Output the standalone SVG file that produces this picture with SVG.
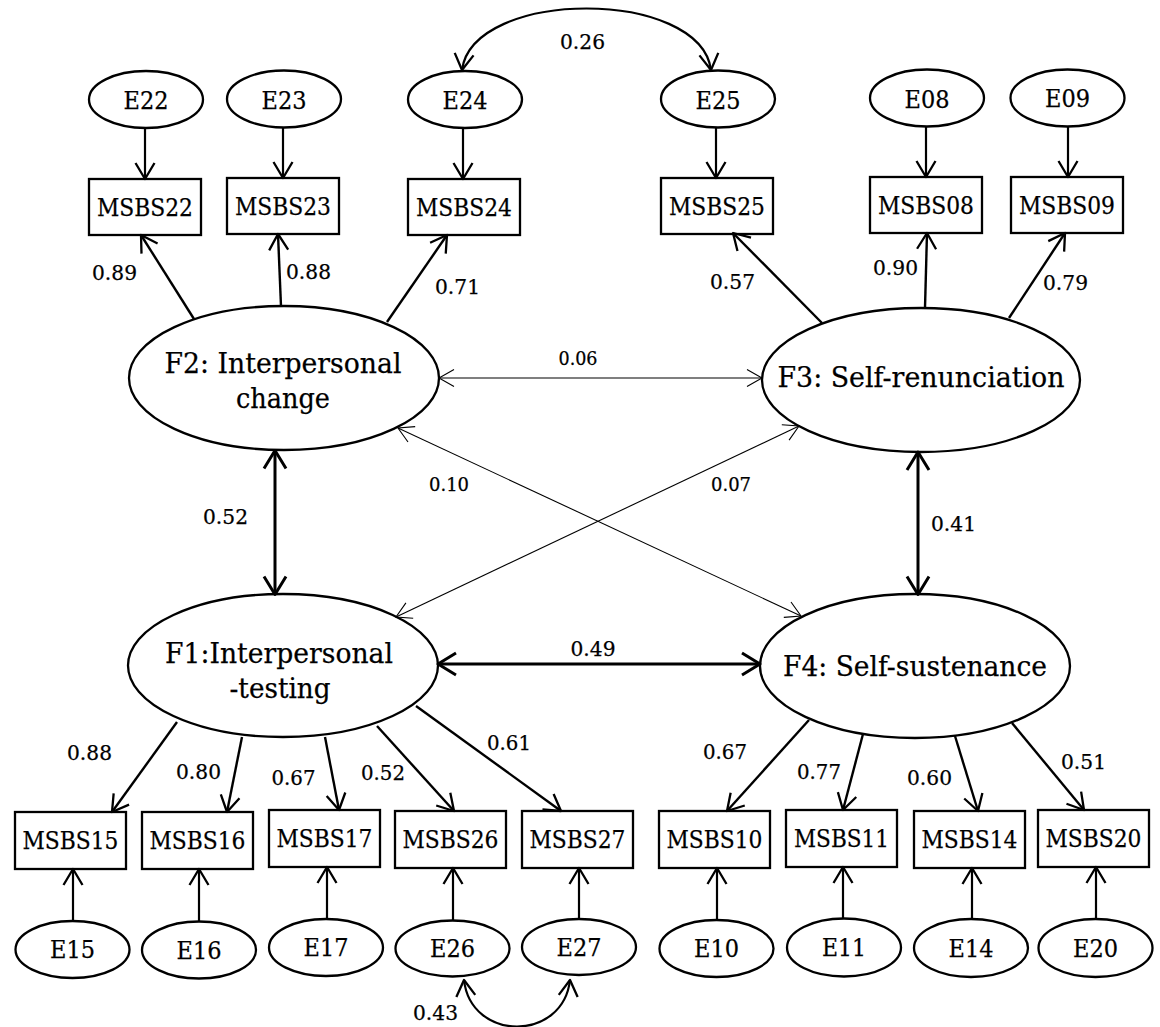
<svg xmlns="http://www.w3.org/2000/svg" width="1160" height="1027" viewBox="0 0 1160 1027">
<style>
.n ellipse, .n rect { fill: #fff; stroke: #000; stroke-width: 2.3; }
text { font-family: "DejaVu Serif", "Liberation Serif", serif; fill: #000; text-anchor: middle; stroke: #000; stroke-width: 0.25; }
.lab { font-size: 24px; }
.big { font-size: 27.5px; }
.num { font-size: 20.5px; }
.sm { font-size: 18px; }
.c line, .c path { fill: none; stroke: #000; }
.ar { stroke-width: 2.2; marker-end: url(#ma); }
.ld { stroke-width: 2.4; marker-end: url(#ma); }
.tk { stroke-width: 3; marker-start: url(#mt); marker-end: url(#mt); }
.th { stroke-width: 1.1; marker-start: url(#mn); marker-end: url(#mn); }
.cv { stroke-width: 2.2; marker-start: url(#ma); marker-end: url(#ma); }
</style>
<defs>
<marker id="ma" markerUnits="userSpaceOnUse" orient="auto-start-reverse" markerWidth="40" markerHeight="40" viewBox="-20 -20 40 40" refX="0" refY="0" overflow="visible">
<path d="M-16,-9.5 L0,0 L-16,9.5" fill="none" stroke="#000" stroke-width="2.3" stroke-linejoin="round"/>
</marker>
<marker id="mt" markerUnits="userSpaceOnUse" orient="auto-start-reverse" markerWidth="40" markerHeight="40" viewBox="-20 -20 40 40" refX="0" refY="0" overflow="visible">
<path d="M-18,-11 L0,0 L-18,11" fill="none" stroke="#000" stroke-width="3" stroke-linejoin="round"/>
</marker>
<marker id="mn" markerUnits="userSpaceOnUse" orient="auto-start-reverse" markerWidth="40" markerHeight="40" viewBox="-20 -20 40 40" refX="0" refY="0" overflow="visible">
<path d="M-15,-8.5 L0,0 L-15,8.5" fill="none" stroke="#000" stroke-width="1.1"/>
</marker>
</defs>
<rect width="1160" height="1027" fill="#fff"/>

<g class="n">
<g id="E22"><ellipse cx="146" cy="99.5" rx="57" ry="28.5"/><text class="lab" x="146" y="109" textLength="45" lengthAdjust="spacingAndGlyphs">E22</text></g>
<g id="E23"><ellipse cx="284" cy="99" rx="57" ry="28.5"/><text class="lab" x="284" y="108.5" textLength="45" lengthAdjust="spacingAndGlyphs">E23</text></g>
<g id="E24"><ellipse cx="465" cy="99.5" rx="57" ry="28.5"/><text class="lab" x="465" y="109" textLength="45" lengthAdjust="spacingAndGlyphs">E24</text></g>
<g id="E25"><ellipse cx="718" cy="99" rx="57" ry="28.5"/><text class="lab" x="718" y="108.5" textLength="45" lengthAdjust="spacingAndGlyphs">E25</text></g>
<g id="E08"><ellipse cx="927" cy="98" rx="57" ry="28.5"/><text class="lab" x="927" y="108" textLength="45" lengthAdjust="spacingAndGlyphs">E08</text></g>
<g id="E09"><ellipse cx="1067.5" cy="98" rx="57" ry="28.5"/><text class="lab" x="1067.5" y="107" textLength="45" lengthAdjust="spacingAndGlyphs">E09</text></g>

<g id="MSBS22"><rect x="89" y="179" width="112" height="56"/><text class="lab" x="145" y="216" textLength="96" lengthAdjust="spacingAndGlyphs">MSBS22</text></g>
<g id="MSBS23"><rect x="227" y="178" width="112" height="56"/><text class="lab" x="283" y="215" textLength="96" lengthAdjust="spacingAndGlyphs">MSBS23</text></g>
<g id="MSBS24"><rect x="408" y="179" width="112" height="56"/><text class="lab" x="464" y="216" textLength="96" lengthAdjust="spacingAndGlyphs">MSBS24</text></g>
<g id="MSBS25"><rect x="661" y="178" width="112" height="56"/><text class="lab" x="717" y="215" textLength="96" lengthAdjust="spacingAndGlyphs">MSBS25</text></g>
<g id="MSBS08"><rect x="870" y="177" width="112" height="56"/><text class="lab" x="926" y="214" textLength="96" lengthAdjust="spacingAndGlyphs">MSBS08</text></g>
<g id="MSBS09"><rect x="1011" y="177" width="112" height="56"/><text class="lab" x="1067" y="214" textLength="96" lengthAdjust="spacingAndGlyphs">MSBS09</text></g>

<g id="F2"><ellipse cx="284" cy="378" rx="155" ry="72"/><text class="big" x="283" y="373" textLength="237" lengthAdjust="spacingAndGlyphs">F2: Interpersonal</text><text class="big" x="283" y="408" textLength="94" lengthAdjust="spacingAndGlyphs">change</text></g>
<g id="F3"><ellipse cx="921" cy="380" rx="159" ry="72"/><text class="big" x="921" y="387" textLength="287" lengthAdjust="spacingAndGlyphs">F3: Self-renunciation</text></g>
<g id="F1"><ellipse cx="283" cy="665.5" rx="155" ry="71.5"/><text class="big" x="279" y="663" textLength="228" lengthAdjust="spacingAndGlyphs">F1:Interpersonal</text><text class="big" x="280" y="698" textLength="101" lengthAdjust="spacingAndGlyphs">-testing</text></g>
<g id="F4"><ellipse cx="915" cy="666" rx="155" ry="72"/><text class="big" x="915" y="676" textLength="264" lengthAdjust="spacingAndGlyphs">F4: Self-sustenance</text></g>

<g id="MSBS15"><rect x="15" y="812" width="111" height="57"/><text class="lab" x="70.5" y="849" textLength="96" lengthAdjust="spacingAndGlyphs">MSBS15</text></g>
<g id="MSBS16"><rect x="142" y="812" width="111" height="57"/><text class="lab" x="197.5" y="849" textLength="96" lengthAdjust="spacingAndGlyphs">MSBS16</text></g>
<g id="MSBS17"><rect x="269" y="810" width="111" height="57"/><text class="lab" x="324.5" y="847" textLength="96" lengthAdjust="spacingAndGlyphs">MSBS17</text></g>
<g id="MSBS26"><rect x="395" y="811" width="111" height="57"/><text class="lab" x="450.5" y="848" textLength="96" lengthAdjust="spacingAndGlyphs">MSBS26</text></g>
<g id="MSBS27"><rect x="522" y="811" width="111" height="57"/><text class="lab" x="577.5" y="848" textLength="96" lengthAdjust="spacingAndGlyphs">MSBS27</text></g>
<g id="MSBS10"><rect x="659" y="811" width="111" height="57"/><text class="lab" x="714.5" y="848" textLength="96" lengthAdjust="spacingAndGlyphs">MSBS10</text></g>
<g id="MSBS11"><rect x="786" y="810" width="111" height="57"/><text class="lab" x="841.5" y="847" textLength="95" lengthAdjust="spacingAndGlyphs">MSBS11</text></g>
<g id="MSBS14"><rect x="914" y="811" width="111" height="57"/><text class="lab" x="969.5" y="848" textLength="96" lengthAdjust="spacingAndGlyphs">MSBS14</text></g>
<g id="MSBS20"><rect x="1038" y="810" width="111" height="57"/><text class="lab" x="1093.5" y="847" textLength="96" lengthAdjust="spacingAndGlyphs">MSBS20</text></g>

<g id="E15"><ellipse cx="72.5" cy="949.5" rx="57" ry="28.5"/><text class="lab" x="72.5" y="958" textLength="45" lengthAdjust="spacingAndGlyphs">E15</text></g>
<g id="E16"><ellipse cx="199" cy="950" rx="57" ry="28.5"/><text class="lab" x="199" y="958.5" textLength="45" lengthAdjust="spacingAndGlyphs">E16</text></g>
<g id="E17"><ellipse cx="326" cy="947.5" rx="57" ry="28.5"/><text class="lab" x="326" y="956" textLength="45" lengthAdjust="spacingAndGlyphs">E17</text></g>
<g id="E26"><ellipse cx="452.5" cy="948.5" rx="57" ry="28"/><text class="lab" x="452.5" y="957" textLength="45" lengthAdjust="spacingAndGlyphs">E26</text></g>
<g id="E27"><ellipse cx="579" cy="947" rx="57" ry="28"/><text class="lab" x="579" y="955.5" textLength="45" lengthAdjust="spacingAndGlyphs">E27</text></g>
<g id="E10"><ellipse cx="716.5" cy="948.5" rx="57" ry="28.5"/><text class="lab" x="716.5" y="957" textLength="45" lengthAdjust="spacingAndGlyphs">E10</text></g>
<g id="E11"><ellipse cx="844" cy="947.5" rx="57" ry="29"/><text class="lab" x="844" y="956" textLength="44" lengthAdjust="spacingAndGlyphs">E11</text></g>
<g id="E14"><ellipse cx="971" cy="948" rx="57" ry="29"/><text class="lab" x="971" y="956.5" textLength="45" lengthAdjust="spacingAndGlyphs">E14</text></g>
<g id="E20"><ellipse cx="1095.5" cy="948" rx="57" ry="29"/><text class="lab" x="1095.5" y="957" textLength="45" lengthAdjust="spacingAndGlyphs">E20</text></g>
</g>

<g id="connectors" class="c">
<line class="ar" x1="145" y1="128" x2="145" y2="179"/>
<line class="ar" x1="283" y1="127.5" x2="283" y2="178"/>
<line class="ar" x1="463" y1="128" x2="463" y2="179"/>
<line class="ar" x1="716" y1="127.5" x2="716" y2="178"/>
<line class="ar" x1="926" y1="126.5" x2="926" y2="177"/>
<line class="ar" x1="1068" y1="126.5" x2="1068" y2="177"/>

<line class="ld" x1="194" y1="319" x2="141" y2="235"/>
<line class="ld" x1="281" y1="306" x2="278" y2="234"/>
<line class="ld" x1="387" y1="322" x2="447" y2="235"/>
<line class="ld" x1="822" y1="323" x2="733" y2="233"/>
<line class="ld" x1="925" y1="308" x2="927" y2="233"/>
<line class="ld" x1="1009" y1="318" x2="1065" y2="233"/>

<line class="ld" x1="177" y1="722" x2="112" y2="812"/>
<line class="ld" x1="242" y1="737" x2="227" y2="812"/>
<line class="ld" x1="325" y1="737" x2="339" y2="810"/>
<line class="ld" x1="377" y1="726" x2="454" y2="811"/>
<line class="ld" x1="416" y1="706" x2="561" y2="811"/>
<line class="ld" x1="809" y1="720" x2="727" y2="811"/>
<line class="ld" x1="863" y1="734" x2="843" y2="810"/>
<line class="ld" x1="955" y1="736" x2="978" y2="811"/>
<line class="ld" x1="1012" y1="723" x2="1084" y2="810"/>

<line class="ar" x1="73" y1="921" x2="73" y2="869"/>
<line class="ar" x1="199" y1="921.5" x2="199" y2="869"/>
<line class="ar" x1="327" y1="919" x2="327" y2="867"/>
<line class="ar" x1="453" y1="920.5" x2="453" y2="868"/>
<line class="ar" x1="579" y1="919" x2="579" y2="868"/>
<line class="ar" x1="717" y1="920" x2="717" y2="868"/>
<line class="ar" x1="843" y1="918.5" x2="843" y2="867"/>
<line class="ar" x1="972" y1="919" x2="972" y2="868"/>
<line class="ar" x1="1096" y1="919" x2="1096" y2="867"/>

<line class="tk" x1="275" y1="450.5" x2="275" y2="594.5"/>
<line class="tk" x1="918" y1="452" x2="918" y2="594.5"/>
<line class="tk" x1="438" y1="664" x2="760" y2="664"/>

<line class="th" x1="439" y1="378" x2="762" y2="378"/>
<line class="th" x1="398" y1="428" x2="801" y2="616"/>
<line class="th" x1="799" y1="426" x2="396" y2="617"/>

<path class="cv" d="M462,70 C473,-12 700,-12 711,70"/>
<path class="cv" d="M464,980 C471,1042 563,1042 570,980"/>
</g>

<g id="labels">
<text class="num" x="114.5" y="280" textLength="45" lengthAdjust="spacingAndGlyphs">0.89</text>
<text class="num" x="308.5" y="279" textLength="45" lengthAdjust="spacingAndGlyphs">0.88</text>
<text class="num" x="457.5" y="294" textLength="45" lengthAdjust="spacingAndGlyphs">0.71</text>
<text class="num" x="582.5" y="49" textLength="45" lengthAdjust="spacingAndGlyphs">0.26</text>
<text class="num" x="732.5" y="289" textLength="45" lengthAdjust="spacingAndGlyphs">0.57</text>
<text class="num" x="895.5" y="275" textLength="45" lengthAdjust="spacingAndGlyphs">0.90</text>
<text class="num" x="1065.5" y="290" textLength="45" lengthAdjust="spacingAndGlyphs">0.79</text>
<text class="sm" x="578" y="365" textLength="39" lengthAdjust="spacingAndGlyphs">0.06</text>
<text class="sm" x="449" y="491" textLength="40" lengthAdjust="spacingAndGlyphs">0.10</text>
<text class="sm" x="731" y="491" textLength="40" lengthAdjust="spacingAndGlyphs">0.07</text>
<text class="num" x="225.5" y="524" textLength="45" lengthAdjust="spacingAndGlyphs">0.52</text>
<text class="num" x="953.5" y="531" textLength="45" lengthAdjust="spacingAndGlyphs">0.41</text>
<text class="num" x="593" y="656" textLength="45" lengthAdjust="spacingAndGlyphs">0.49</text>
<text class="num" x="89.5" y="760" textLength="45" lengthAdjust="spacingAndGlyphs">0.88</text>
<text class="num" x="198.5" y="779" textLength="45" lengthAdjust="spacingAndGlyphs">0.80</text>
<text class="num" x="293.5" y="785" textLength="44" lengthAdjust="spacingAndGlyphs">0.67</text>
<text class="num" x="383" y="780" textLength="44" lengthAdjust="spacingAndGlyphs">0.52</text>
<text class="num" x="509" y="750" textLength="44" lengthAdjust="spacingAndGlyphs">0.61</text>
<text class="num" x="725" y="759" textLength="44" lengthAdjust="spacingAndGlyphs">0.67</text>
<text class="num" x="819" y="779" textLength="44" lengthAdjust="spacingAndGlyphs">0.77</text>
<text class="num" x="929.5" y="785" textLength="45" lengthAdjust="spacingAndGlyphs">0.60</text>
<text class="num" x="1083.5" y="769" textLength="45" lengthAdjust="spacingAndGlyphs">0.51</text>
<text class="num" x="435.5" y="1020" textLength="45" lengthAdjust="spacingAndGlyphs">0.43</text>
</g>
</svg>
